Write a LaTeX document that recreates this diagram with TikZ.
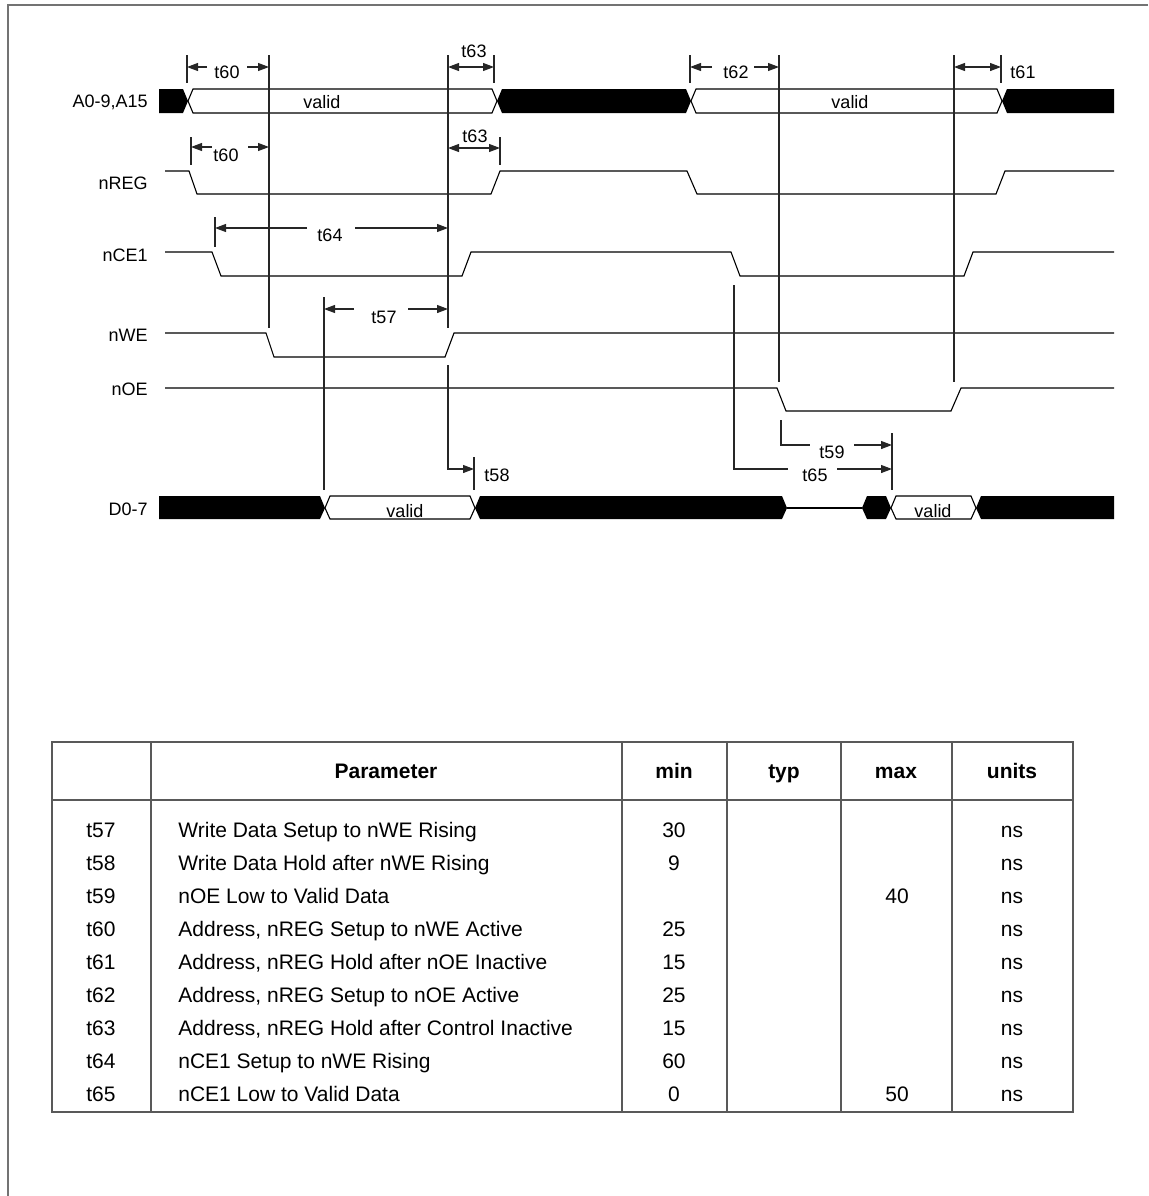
\documentclass[tikz,border=0pt]{standalone}
\usepackage{fontspec}
\setmainfont{Liberation Sans}
\usetikzlibrary{arrows.meta}

\begin{document}
\begin{tikzpicture}[x=0.5pt,y=-0.5pt,font=\fontsize{9}{11}\selectfont,
    sig/.style={line width=0.55pt,black},
    valbox/.style={draw=black,fill=white,line width=0.55pt},
    refline/.style={line width=0.55pt,black!85},
    meas/.style={refline,-{Triangle[length=5.5pt,width=4pt]}},
    twoway/.style={refline,{Triangle[length=5.5pt,width=4pt]}-{Triangle[length=5.5pt,width=4pt]}},
    lbl/.style={anchor=base east,inner sep=0pt},
    tlbl/.style={anchor=base,inner sep=0pt},
    grid/.style={black!65,line width=0.6pt},
    cell/.style={anchor=base,inner sep=0pt,font=\fontsize{10.5}{12}\selectfont},
    headcell/.style={cell,font=\fontsize{10.5}{12}\selectfont\bfseries}]
  \useasboundingbox (0,0) rectangle (1148,1196);
  % ---- frame ----
  \draw[black!55,line width=0.9pt] (1148,5) -- (8,5) -- (8,1196);
  % ---- signal names ----
  \node[lbl] (nmA) at (148,107.5) {A0-9,A15};
  \node[lbl] (nmREG) at (148,189.5) {nREG};
  \node[lbl] (nmCE) at (148,261.5) {nCE1};
  \node[lbl] (nmWE) at (148,341.5) {nWE};
  \node[lbl] (nmOE) at (148,395.5) {nOE};
  \node[lbl] (nmD) at (148,515.5) {D0-7};
  % ---- address bus ----
  \fill (159,89) -- (183,89) -- (188,101) -- (183,113) -- (159,113) -- cycle;
  \draw[valbox] (188,101) -- (193,89) -- (492,89) -- (497,101) -- (492,113) -- (193,113) -- cycle;
  \fill (497,101) -- (502,89) -- (686,89) -- (691,101) -- (686,113) -- (502,113) -- cycle;
  \draw[valbox] (691,101) -- (696,89) -- (997,89) -- (1002,101) -- (997,113) -- (696,113) -- cycle;
  \fill (1002,101) -- (1007,89) -- (1114,89) -- (1114,113) -- (1007,113) -- cycle;
  \node[tlbl] (vA1) at (322,108.5) {valid};
  \node[tlbl] (vA2) at (850,108.5) {valid};
  % ---- control lines ----
  \draw[sig] (165,171) -- (189,171) -- (197,194) -- (491,194) -- (500,171) -- (687,171)
      -- (697,194) -- (996,194) -- (1005,171) -- (1114,171);
  \draw[sig] (165,252) -- (212,252) -- (221,276) -- (462,276) -- (471,252) -- (731,252)
      -- (740,276) -- (964,276) -- (973,252) -- (1114,252);
  \draw[sig] (165,333) -- (266,333) -- (274,357) -- (445,357) -- (454,333) -- (1114,333);
  \draw[sig] (165,388) -- (777,388) -- (786,411) -- (951,411) -- (961,388) -- (1114,388);
  % ---- data bus ----
  \fill (159,496) -- (320,496) -- (325,508) -- (320,519) -- (159,519) -- cycle;
  \draw[valbox] (325,508) -- (330,496) -- (470,496) -- (475,508) -- (470,519) -- (330,519) -- cycle;
  \fill (475,508) -- (480,496) -- (782,496) -- (787,508) -- (782,519) -- (480,519) -- cycle;
  \draw[sig] (787,508) -- (862,508);
  \fill (862,508) -- (867,496) -- (886,496) -- (891,508) -- (886,519) -- (867,519) -- cycle;
  \draw[valbox] (891,508) -- (896,496) -- (971,496) -- (976,508) -- (971,519) -- (896,519) -- cycle;
  \fill (976,508) -- (981,496) -- (1114,496) -- (1114,519) -- (981,519) -- cycle;
  \node[tlbl] (vD1) at (405,517) {valid};
  \node[tlbl] (vD2) at (933,517) {valid};
  % ---- reference lines ----
  \draw[refline] (269,55) -- (269,328);
  \draw[refline] (448,55) -- (448,328);
  \draw[refline] (324,297) -- (324,490);
  \draw[refline] (779,55) -- (779,382);
  \draw[refline] (954,55) -- (954,382);
  \foreach \x/\ya/\yb in {187/55/83, 494/55/83, 191/137/165, 500/137/165, 215/217/247,
      690/55/83, 1001/55/83, 474/457/490, 892/433/490}
    \draw[refline] (\x,\ya) -- (\x,\yb);
  % ---- t60, t63 on address ----
  \draw[meas] (207,67) -- (187,67);
  \draw[meas] (247,67) -- (269,67);
  \node[tlbl] (tA60) at (227,78) {t60};
  \draw[twoway] (448,67) -- (494,67);
  \node[tlbl] (tA63) at (474,57) {t63};
  % ---- t60, t63 on nREG ----
  \draw[meas] (212,147) -- (191,147);
  \draw[meas] (248,147) -- (269,147);
  \node[tlbl] (tR60) at (226,161) {t60};
  \draw[twoway] (448,148) -- (500,148);
  \node[tlbl] (tR63) at (475,142) {t63};
  % ---- t62, t61 ----
  \draw[meas] (712,67) -- (690,67);
  \draw[meas] (754,67) -- (779,67);
  \node[tlbl] (t62) at (736,78) {t62};
  \draw[twoway] (954,67) -- (1001,67);
  \node[tlbl] (t61) at (1023,78) {t61};
  % ---- t64, t57 ----
  \draw[meas] (307,228) -- (215,228);
  \draw[meas] (355,228) -- (448,228);
  \node[tlbl] (t64) at (330,241) {t64};
  \draw[meas] (354,309) -- (324,309);
  \draw[meas] (408,309) -- (448,309);
  \node[tlbl] (t57) at (384,323) {t57};
  % ---- t58, t59, t65 ----
  \draw[meas] (448,365) -- (448,469) -- (474,469);
  \node[tlbl] (t58) at (497,481) {t58};
  \draw[refline] (781,420) -- (781,445) -- (810,445);
  \draw[meas] (854,445) -- (892,445);
  \node[tlbl] (t59) at (832,458) {t59};
  \draw[refline] (734,285) -- (734,469) -- (788,469);
  \draw[meas] (837,469) -- (892,469);
  \node[tlbl] (t65) at (815,481) {t65};
  % ---- parameter table ----
  \draw[grid] (52,742) rectangle (1073,1112);
  \draw[grid] (52,800) -- (1073,800);
  \foreach \cx in {151,622,727,841,952}
    \draw[grid] (\cx,742) -- (\cx,1112);
  \node[headcell] (hPar) at (386,778) {Parameter};
  \node[headcell] (hMin) at (674,778) {min};
  \node[headcell] (hTyp) at (784,778) {typ};
  \node[headcell] (hMax) at (896,778) {max};
  \node[headcell] (hUnit) at (1012,778) {units};
  \foreach \tn/\txt/\mn/\mx [count=\i from 0] in {
      t57/{Write Data Setup to nWE Rising}/30/,
      t58/{Write Data Hold after nWE Rising}/9/,
      t59/{nOE Low to Valid Data}//40,
      t60/{Address, nREG Setup to nWE Active}/25/,
      t61/{Address, nREG Hold after nOE Inactive}/15/,
      t62/{Address, nREG Setup to nOE Active}/25/,
      t63/{Address, nREG Hold after Control Inactive}/15/,
      t64/{nCE1 Setup to nWE Rising}/60/,
      t65/{nCE1 Low to Valid Data}/0/50}{
    \pgfmathsetmacro\ry{837+33.05*\i}
    \node[cell] (id\i) at (101,\ry) {\tn};
    \node[cell,anchor=base west] (par\i) at (178,\ry) {\txt};
    \node[cell] (mn\i) at (674,\ry) {\mn};
    \node[cell] (mx\i) at (897,\ry) {\mx};
    \node[cell] (un\i) at (1012,\ry) {ns};
  }
\end{tikzpicture}
\end{document}
